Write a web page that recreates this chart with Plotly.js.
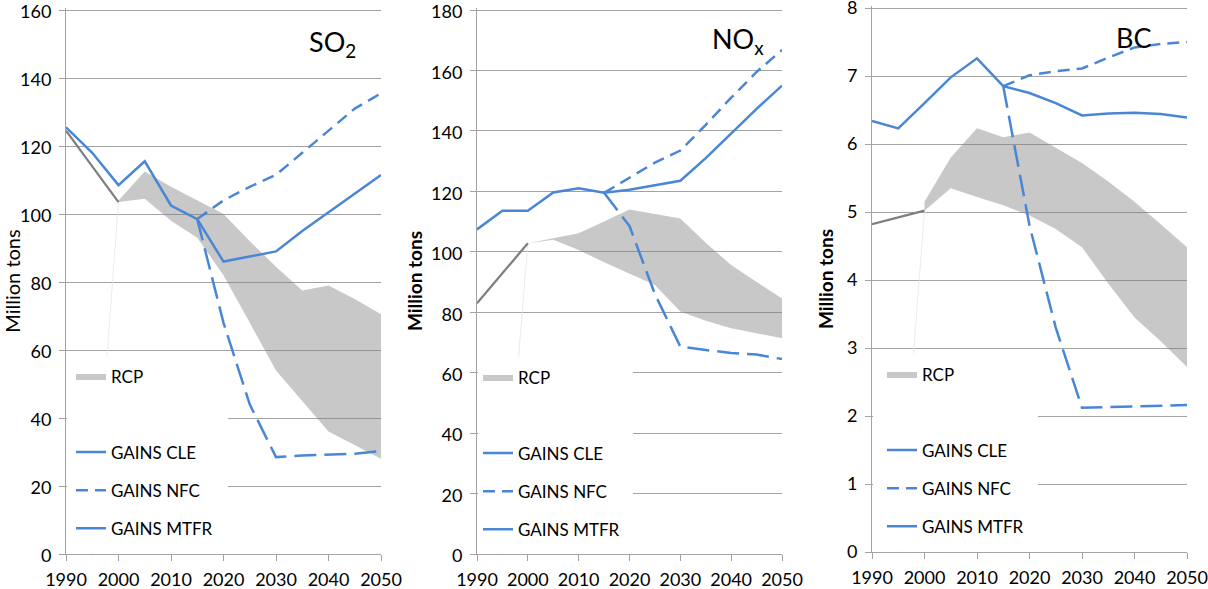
<!DOCTYPE html>
<html><head><meta charset="utf-8">
<script src="https://cdn.plot.ly/plotly-3.0.1.min.js"></script>
<style>html,body{margin:0;padding:0;background:#fff}#chart{width:1208px;height:589px}</style>
</head><body><div id="chart"></div><script>
// ---------- data ----------
const years = [1990,1995,2000,2005,2010,2015,2020,2025,2030,2035,2040,2045,2050];
const histYears = [1990,1995,2000];
const rcpYears = [2000,2005,2010,2015,2020,2025,2030,2035,2040,2045,2050];
const scenYears = [2015,2020,2025,2030,2035,2040,2045,2050];
const edgeYears = [1995,2000];
const xTicks = [1990,2000,2010,2020,2030,2040,2050];
const so2Ticks = [0,20,40,60,80,100,120,140,160];
const noxTicks = [0,20,40,60,80,100,120,140,160,180];
const bcTicks  = [0,1,2,3,4,5,6,7,8];
const legendNames = ['RCP','GAINS CLE','GAINS NFC','GAINS MTFR'];

// SO2
const so2Hist    = [124.5,114,103.5];
const so2RcpLow  = [103.5,104.5,98,93,82,68,54,45,36,32,28];
const so2RcpHigh = [104,112.5,108,104,100,92,84.5,77.5,79,75,70.5];
const so2Cle     = [125.5,118,108.5,115.5,102.5,98.5,86,87.5,89,95,100.5,106,111.5];
const so2Nfc     = [98.5,104,108,111.5,118,124.5,131,135.5];
const so2Mtfr    = [98.5,68,44,28.5,29,29.3,29.5,30.3];

// NOx
const noxHist    = [83,93,102.8];
const noxRcpLow  = [102.8,104,100.6,96.5,92.8,89,80.2,77.2,74.7,73,71.4];
const noxRcpHigh = [102.8,104.5,106.1,110,114,112.5,111,103,95.6,90,84.5];
const noxCle     = [107.4,113.6,113.6,119.6,121,119.5,120.5,122,123.5,131,139.2,147.3,155];
const noxNfc     = [119.5,124.5,129.5,133.5,142,151,159.5,166.8];
const noxMtfr    = [119.5,108.5,86,68.6,67.5,66.5,66,64.5];

// BC
const bcHist     = [4.82,4.92,5.02];
const bcRcpLow   = [5.02,5.35,5.22,5.1,4.95,4.75,4.48,3.95,3.45,3.1,2.72];
const bcRcpHigh  = [5.15,5.8,6.23,6.1,6.17,5.95,5.72,5.45,5.15,4.82,4.48];
const bcCle      = [6.34,6.23,6.6,6.98,7.26,6.85,6.75,6.6,6.42,6.45,6.46,6.44,6.39];
const bcNfc      = [6.85,7.01,7.07,7.11,7.27,7.42,7.47,7.5];
const bcMtfr     = [6.85,4.8,3.3,2.12,2.13,2.14,2.15,2.16];

// ---------- styling ----------
const W = 1208, H = 589;
const BLUE = '#4a86d6';
const GRAY = '#7f7f7f';
const BAND = 'rgba(128,128,128,0.43)';
const FONT = 'Lato, "Open Sans", sans-serif';
const AXC = '#a3a3a3';

function lgName(k) { return k === 1 ? 'legend' : 'legend' + k; }

function panel(n, hist, lo, hi, cle, nfc, mtfr) {
  const xa = n === 1 ? 'x' : 'x' + n;
  const ya = n === 1 ? 'y' : 'y' + n;
  const lgA = lgName(2 * n - 1), lgB = lgName(2 * n);
  const base = {type: 'scatter', mode: 'lines', xaxis: xa, yaxis: ya, hoverinfo: 'skip'};
  return [
    Object.assign({}, base, {
      x: rcpYears.concat(rcpYears.slice().reverse()),
      y: hi.concat(lo.slice().reverse()),
      fill: 'toself', fillcolor: BAND, line: {width: 0},
      name: legendNames[0], legend: lgA
    }),
    Object.assign({}, base, {
      x: edgeYears, y: [0, lo[0]], line: {color: '#e6e6e6', width: 0.8}, showlegend: false
    }),
    Object.assign({}, base, {
      x: histYears, y: hist, line: {color: GRAY, width: 2.25}, showlegend: false
    }),
    Object.assign({}, base, {
      x: years, y: cle, line: {color: BLUE, width: 2.5}, name: legendNames[1], legend: lgB, legendgroup: 'a' + n
    }),
    Object.assign({}, base, {
      x: scenYears, y: nfc, line: {color: BLUE, width: 2.5, dash: '12px,7px'}, name: legendNames[2], legend: lgB, legendgroup: 'b' + n
    }),
    Object.assign({}, base, {
      x: scenYears, y: mtfr, line: {color: BLUE, width: 2.5, dash: '22px,8px'}, name: legendNames[3], legend: lgB,
      legendgroup: 'c' + n, showlegend: false
    }),
    // legend key for MTFR is drawn solid in the reference
    Object.assign({}, base, {
      x: [null], y: [null], line: {color: BLUE, width: 2.5}, name: legendNames[3], legend: lgB, legendgroup: 'c' + n
    })
  ];
}

const data = [].concat(
  panel(1, so2Hist, so2RcpLow, so2RcpHigh, so2Cle, so2Nfc, so2Mtfr),
  panel(2, noxHist, noxRcpLow, noxRcpHigh, noxCle, noxNfc, noxMtfr),
  panel(3, bcHist, bcRcpLow, bcRcpHigh, bcCle, bcNfc, bcMtfr)
);

function xAxis(l, r, anchor) {
  return {
    domain: [l / W, r / W], anchor: anchor, range: [1990, 2050],
    tickvals: xTicks, ticks: 'outside', ticklen: 6, tickcolor: AXC,
    showline: true, linecolor: AXC, linewidth: 1, showgrid: false, zeroline: false,
    tickfont: {family: FONT, size: 18, color: '#000'}, ticklabelstandoff: 3,
    ticklabeloverflow: 'allow', fixedrange: true
  };
}
// top = pixel row of the highest tick, bottom = pixel row of zero
function yAxis(top, bottom, anchor, ticks, bold, size, standoff, shift) {
  const max = ticks[ticks.length - 1];
  const pad = 2;
  const upp = max / (bottom - top);
  return {
    domain: [1 - bottom / H, 1 - (top - pad) / H], anchor: anchor, range: [0, max + pad * upp], tickvals: ticks,
    ticks: 'outside', ticklen: 6, tickcolor: AXC,
    showline: true, linecolor: AXC, linewidth: 1,
    showgrid: true, gridcolor: AXC, gridwidth: 1, zeroline: false,
    tickfont: {family: FONT, size: 18, color: '#000'}, ticklabelstandoff: 4, ticklabelshift: shift,
    ticklabeloverflow: 'allow', fixedrange: true,
    title: {text: 'Million tons', standoff: standoff,
            font: {family: FONT, size: size, color: '#000', weight: bold ? 'bold' : 'normal'}}
  };
}
function legend(left, top, gap) {
  return {
    x: left / W, xanchor: 'left', y: 1 - top / H, yanchor: 'top',
    bgcolor: 'rgba(0,0,0,0)', borderwidth: 0, traceorder: 'grouped', tracegroupgap: gap,
    font: {family: FONT, size: 17, color: '#000'}
  };
}
function box(x0, x1, y0, y1) {
  return {type: 'rect', xref: 'paper', yref: 'paper', layer: 'above',
          x0: x0 / W, x1: x1 / W, y0: 1 - y1 / H, y1: 1 - y0 / H,
          fillcolor: '#ffffff', line: {width: 0}};
}

const layout = {
  width: W, height: H, margin: {l: 0, r: 0, t: 0, b: 0},
  paper_bgcolor: '#fff', plot_bgcolor: 'rgba(0,0,0,0)',
  font: {family: FONT, color: '#000'},
  showlegend: true,
  xaxis: xAxis(66, 381, 'y'),
  yaxis: yAxis(10, 554, 'x', so2Ticks, false, 20, 3, 2),
  xaxis2: xAxis(477, 782, 'y2'),
  yaxis2: yAxis(10, 554, 'x2', noxTicks, true, 19, 3, 2),
  xaxis3: xAxis(872, 1187, 'y3'),
  yaxis3: yAxis(8, 552, 'x3', bcTicks, true, 19, 8, 3.5),
  legend:  legend(71, 358.5, 13),
  legend2: legend(71, 434.5, 13),
  legend3: legend(478, 359.5, 13),
  legend4: legend(478, 435.5, 13),
  legend5: legend(882, 356.5, 13),
  legend6: legend(882, 432.5, 13),
  shapes: [
    box(67, 228, 357, 553),
    box(478, 633, 357, 553),
    box(873, 1038, 353, 551)
  ],
  annotations: [
    {text: 'SO<sub>2</sub>', xref: 'paper', yref: 'paper', x: 307 / W, xanchor: 'left', y: 1 - 43 / H, yanchor: 'middle',
     showarrow: false, font: {family: FONT, size: 27, color: '#000'}},
    {text: 'NO<sub>x</sub>', xref: 'paper', yref: 'paper', x: 710 / W, xanchor: 'left', y: 1 - 41 / H, yanchor: 'middle',
     showarrow: false, font: {family: FONT, size: 27, color: '#000'}},
    {text: 'BC', xref: 'paper', yref: 'paper', x: 1114 / W, xanchor: 'left', y: 1 - 37 / H, yanchor: 'middle',
     showarrow: false, font: {family: FONT, size: 27, color: '#000'}}
  ]
};

Plotly.newPlot('chart', data, layout, {displayModeBar: false, staticPlot: true});
</script></body></html>
